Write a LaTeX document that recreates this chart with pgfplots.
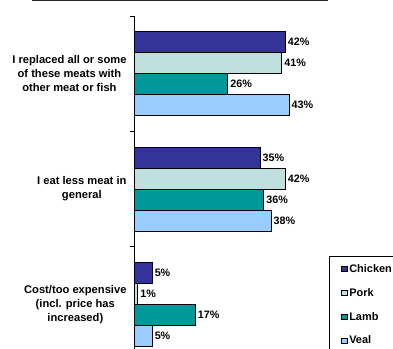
\documentclass[border=0pt]{standalone}
\usepackage{fontspec}
\setmainfont{Liberation Sans}
\usepackage{pgfplots}
\pgfplotsset{compat=1.18}
\definecolor{chicken}{HTML}{333399}
\definecolor{pork}{HTML}{C0E0E0}
\definecolor{lamb}{HTML}{009999}
\definecolor{veal}{HTML}{99CCFF}
\begin{document}
\begin{tikzpicture}[x=1bp,y=1bp]
\clip (0,0) rectangle (393,349);
\draw[line width=1bp, black!85] (32,348.5) -- (328,348.5);
\begin{axis}[
  at={(134bp,0bp)}, anchor=south west,
  scale only axis, width=180bp, height=333bp,
  xbar=0pt, bar width=21bp,
  xmin=0, xmax=50,
  ymin=-0.387, ymax=2.5,
  axis x line=none, axis y line=left,
  axis line style={-, line width=0.8bp, black},
  ytick={0,1,2},
  yticklabels={{Cost/too expensive\\(incl. price has\\increased)},{I eat less meat in\\general},{I replaced all or some\\of these meats with\\other meat or fish}},
  yticklabel style={align=center, font=\bfseries\fontsize{11.2}{14}\selectfont, xshift=-4bp},
  major tick length=0pt,
  extra y ticks={0.5,1.5,2.5}, extra y tick labels={},
  extra y tick style={major tick length=4bp, tick align=outside, tick style={black, line width=0.8bp}},
  point meta=explicit symbolic,
  nodes near coords={\pgfplotspointmeta\%},
  every node near coord/.append style={anchor=west, font=\bfseries\fontsize{10.8}{12}\selectfont, inner sep=2.5bp, black},
  legend style={at={(1.0833,0.2793)}, anchor=north west, draw=black, line width=0.6bp,
    font=\bfseries\fontsize{11}{13}\selectfont, row sep=10.5bp, inner xsep=12bp, inner ysep=6bp,
    legend cell align=left},
  legend image code/.code={\draw[#1,draw=black,line width=0.5bp] (0bp,-2.5bp) rectangle (5.5bp,3bp);},
  clip=false,
]
\addplot[fill=chicken, draw=black, line width=0.5bp, bar shift=31.5bp] coordinates {(42,2) [42] (35,1) [35] (5,0) [5]};
\addplot[fill=pork, draw=black, line width=0.5bp, bar shift=10.5bp] coordinates {(41,2) [41] (42,1) [42] (1,0) [1]};
\addplot[fill=lamb, draw=black, line width=0.5bp, bar shift=-10.5bp] coordinates {(26,2) [26] (36,1) [36] (17,0) [17]};
\addplot[fill=veal, draw=black, line width=0.5bp, bar shift=-31.5bp] coordinates {(43,2) [43] (38,1) [38] (5,0) [5]};
\legend{Chicken,Pork,Lamb,Veal}
\end{axis}
\end{tikzpicture}
\end{document}
